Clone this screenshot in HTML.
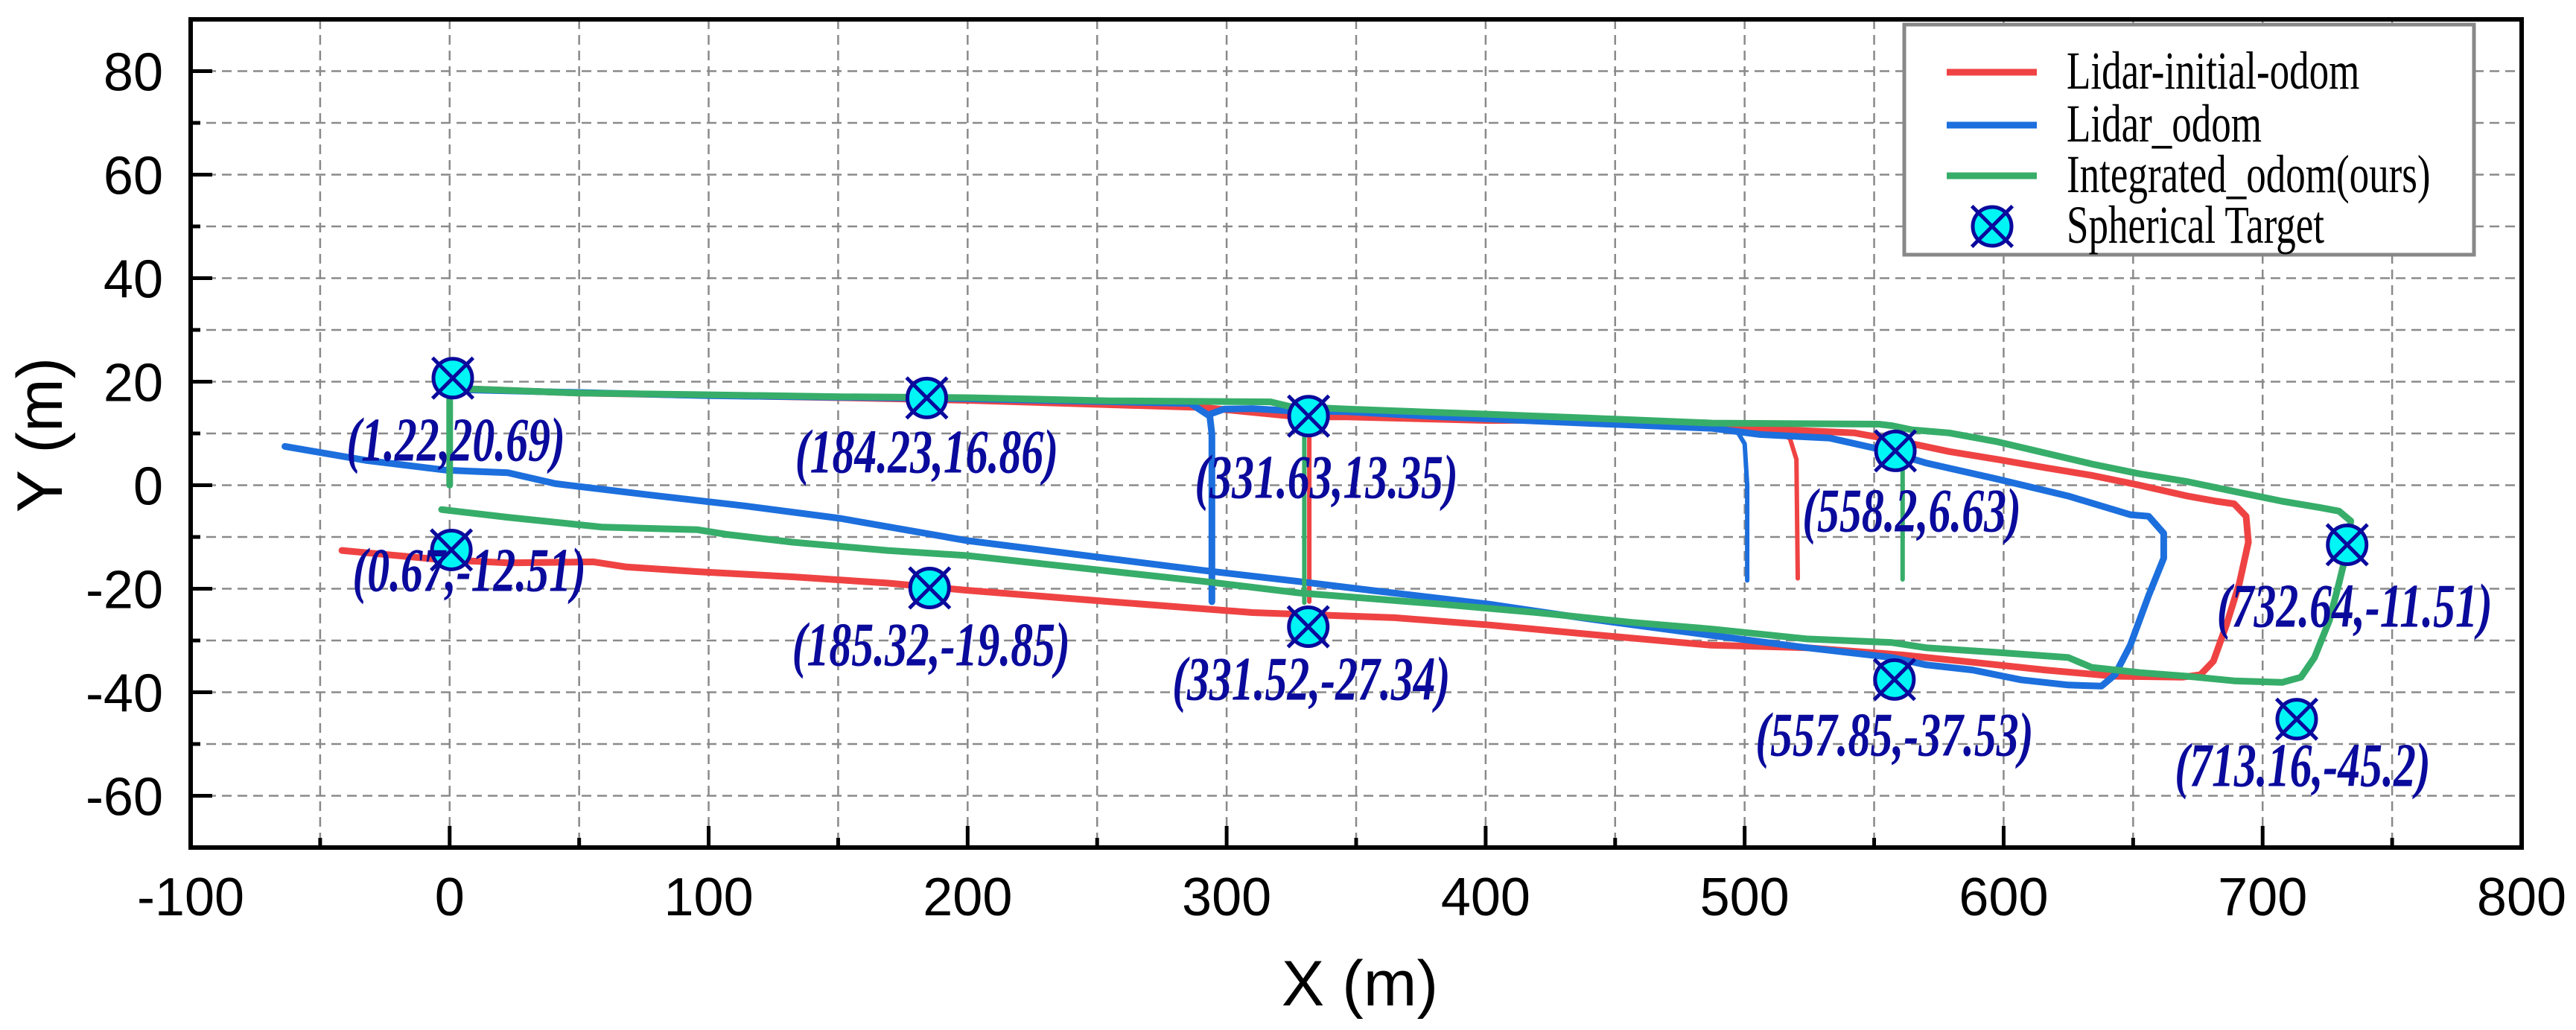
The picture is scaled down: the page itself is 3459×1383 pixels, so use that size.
<!DOCTYPE html>
<html><head><meta charset="utf-8"><style>
html,body{margin:0;padding:0;background:#fff;}
svg{display:block;}
</style></head><body>
<svg id="chart" xmlns="http://www.w3.org/2000/svg" width="3459" height="1383" viewBox="0 0 3459 1383">
<rect x="0" y="0" width="3459" height="1383" fill="#fff"/>
<g id="grid"></g>
<g id="series"></g>
<g id="targets"></g>
<g id="axes"></g>
<g id="legend"></g>
</svg>
<script>
// ---- data ----
const xTicks = [-100,0,100,200,300,400,500,600,700,800];
const yTicks = [-60,-40,-20,0,20,40,60,80];
const xGrid = [-50,0,50,100,150,200,250,300,350,400,450,500,550,600,650,700,750];
const yGrid = [-60,-50,-40,-30,-20,-10,0,10,20,30,40,50,60,70,80];

const redMainX = [-41.6,-5,22.5,55.5,68.3,95.8,132.4,169,199.8,255,310,364.8,401.5,438,487,524,561,588,616,643,669,676,681,686,691,694.5,693.6,689,682,671,652.5,634,616,597.5,579,561,542.5,511,487,438,401.5,346.5,328,291.6,200,151,95.8,50,8,1];
const redMainY = [-12.6,-14.3,-15,-14.8,-15.8,-16.7,-17.7,-18.9,-20.3,-22.5,-24.6,-25.6,-27,-28.7,-30.9,-31.4,-32.8,-34.2,-35.7,-36.9,-37.1,-36.6,-34,-27,-19,-11,-6,-3.6,-3.1,-2.1,0,1.9,3.4,5,6.5,8.4,10.1,10.8,11.6,12.6,12.5,13.2,13.2,15,16.4,16.9,17.4,17.8,18.6,18.7];
const redSpur1X = [511,517.5,520,520.5];
const redSpur1Y = [10.8,9,5,-18];
const redSpur2X = [331.9,331.9];
const redSpur2Y = [13,-22.5];

const blueMainX = [-63.6,-32.4,-1.3,22.5,40.8,77.5,114,150.7,199.8,291.6,328,355.7,401.5,438,487,524,557,570,588,606.7,625,637.8,643,648.9,656,661.8,661.8,656,648.9,625,597.5,570,551.7,533,505.9,487.5,438,383,346.5,322.7,310,299,293.4,294.3,294.3,294.3];
const blueMainY = [7.5,4.8,2.9,2.4,0.3,-1.9,-4,-6.4,-10.7,-16.5,-18.6,-20.3,-23,-25.7,-29,-31.4,-33.3,-34.7,-35.7,-37.6,-38.6,-38.8,-36.6,-30.9,-21.3,-14.1,-9.3,-6,-5.7,-2.1,1.2,4.3,7,9.1,9.8,11,12,13.2,14.2,14.4,14.8,14.7,13.7,9.9,-4.5,-22.5];
const blueTopX = [1,100,200,286,293];
const blueTopY = [18.5,17.3,16.7,15.8,13.5];
const blueSpurX = [487.5,497,500,501,501];
const blueSpurY = [11,10.5,8,0,-18.4];

const greenMainX = [-3.1,22.5,59,95.8,106.8,132.4,169,199.8,291.6,328,383,419.8,456.4,487.5,524,557,570,597.5,625,634,652.5,670.8,689,707.5,714.8,720,725.8,729.5,733,734,729.5,722,707.5,689,670.8,652.5,634,615.9,597.5,579,564.5,557,551.7,487.5,438,401.5,346.5,324.5,317,255,200,151,95.8,50,8,0,0];
const greenMainY = [-4.7,-6.2,-8.1,-8.6,-9.5,-11,-12.6,-13.6,-18.6,-20.8,-23,-24.6,-26.5,-27.8,-29.7,-30.4,-31.4,-32.3,-33.3,-35.2,-36.2,-36.9,-37.8,-38.1,-37.1,-33.3,-26.1,-18.9,-11.7,-6.9,-5,-4.3,-3.1,-1.2,0.7,2.2,4.1,6.25,8.4,10.1,10.7,11.5,11.8,12,13,13.7,14.7,15.2,16.1,16.3,16.9,17.1,17.5,17.8,18.6,18.7,0];
const greenSpur1X = [330,330];
const greenSpur1Y = [13.5,-22.7];
const greenSpur2X = [561,561];
const greenSpur2Y = [10.7,-18.2];

const targetX = [1.22,0.67,184.23,185.32,331.63,331.52,558.2,557.85,732.64,713.16];
const targetY = [20.69,-12.51,16.86,-19.85,13.35,-27.34,6.63,-37.53,-11.51,-45.2];
const targetLabels = ["(1.22,20.69)","(0.67,-12.51)","(184.23,16.86)","(185.32,-19.85)","(331.63,13.35)","(331.52,-27.34)","(558.2,6.63)","(557.85,-37.53)","(732.64,-11.51)","(713.16,-45.2)"];
// label offsets in px (layout only)
const labelDx = [4,24,0,2,24,4,22,0,10,8];
const labelDy = [111,55,100,104,110,98,108,102,110,90];

const legendLabels = ["Lidar-initial-odom","Lidar_odom","Integrated_odom(ours)","Spherical Target"];

// ---- layout ----
const NS = "http://www.w3.org/2000/svg";
const L = 256, R = 3386, T = 26, B = 1138;
const xMin = -100, xMax = 800, yMin = -70, yMax = 90;
function sx(v){ return L + (v - xMin) / (xMax - xMin) * (R - L); }
function sy(v){ return B - (v - yMin) / (yMax - yMin) * (B - T); }
function mk(tag, attrs, parent){
  const e = document.createElementNS(NS, tag);
  for (const k in attrs) e.setAttribute(k, attrs[k]);
  parent.appendChild(e);
  return e;
}
const RED = "#ef4343", BLUE = "#1c6fdd", GREEN = "#37ad6a";

// grid
const grid = document.getElementById('grid');
xGrid.forEach(v => {
  const e = mk('line', {x1:sx(v), x2:sx(v), y1:T, y2:B, stroke:'#8a8a8a', 'stroke-width':2.5, 'stroke-dasharray':'13 8'}, grid);
  
  
});
yGrid.forEach(v => {
  const e = mk('line', {x1:L, x2:R, y1:sy(v), y2:sy(v), stroke:'#8a8a8a', 'stroke-width':2.5, 'stroke-dasharray':'13 8'}, grid);
  
  
});

// series
const series = document.getElementById('series');
function path(xs, ys, color, w, name){
  let d = '';
  for (let i = 0; i < xs.length; i++) d += (i ? 'L' : 'M') + sx(xs[i]).toFixed(1) + ',' + sy(ys[i]).toFixed(1);
  const e = mk('path', {d:d, fill:'none', stroke:color, 'stroke-width':w, 'stroke-linejoin':'round', 'stroke-linecap':'round'}, series);
  
  
}
path(redMainX, redMainY, RED, 9, 'lidar-initial-odom-line');
path(redSpur1X, redSpur1Y, RED, 6, 'lidar-initial-odom-spur');
path(redSpur2X, redSpur2Y, RED, 6, 'lidar-initial-odom-spur');
path(blueTopX, blueTopY, BLUE, 9, 'lidar-odom-line-top');
path(blueMainX, blueMainY, BLUE, 9, 'lidar-odom-line');
path(blueSpurX, blueSpurY, BLUE, 6, 'lidar-odom-spur');
path(greenMainX, greenMainY, GREEN, 9, 'integrated-odom-line');
path(greenSpur1X, greenSpur1Y, GREEN, 6, 'integrated-odom-spur');
path(greenSpur2X, greenSpur2Y, GREEN, 6, 'integrated-odom-spur');

// targets
const tg = document.getElementById('targets');
function marker(cx, cy, r, parent, name){
  const g = mk('g', {}, parent);
  
  
  mk('circle', {cx:cx, cy:cy, r:r, fill:'#00f5f5', stroke:'#0a0a9c', 'stroke-width':5}, g);
  const k = r * 1.05;
  mk('line', {x1:cx-k, y1:cy-k, x2:cx+k, y2:cy+k, stroke:'#0a0a9c', 'stroke-width':5}, g);
  mk('line', {x1:cx+k, y1:cy-k, x2:cx-k, y2:cy+k, stroke:'#0a0a9c', 'stroke-width':5}, g);
}
targetX.forEach((v, i) => {
  const cx = sx(v), cy = sy(targetY[i]);
  marker(cx, cy, 26, tg, 'target-marker');
  const t = mk('text', {x:0, y:0, transform:'translate(' + (cx+labelDx[i]) + ',' + (cy+labelDy[i]) + ') scale(1.03,1.45)', 'text-anchor':'middle', 'font-family':'"Liberation Serif", serif', 'font-size':58, 'font-style':'italic', 'font-weight':'bold', fill:'#0a0a9c'}, tg);
  t.textContent = targetLabels[i];
  
  
});

// axes
const ax = document.getElementById('axes');
const frame = mk('rect', {x:L, y:T, width:R-L, height:B-T, fill:'none', stroke:'#000', 'stroke-width':6}, ax);


for (let v = xMin; v <= xMax; v += 50) {
  const major = v % 100 === 0;
  if (v === xMin || v === xMax) continue;
  const e = mk('line', {x1:sx(v), x2:sx(v), y1:B, y2:B-(major?29:13), stroke:'#000', 'stroke-width':5}, ax);
  
  
}
for (let v = -60; v <= 80; v += 10) {
  const major = v % 20 === 0;
  const e = mk('line', {x1:L, x2:L+(major?29:13), y1:sy(v), y2:sy(v), stroke:'#000', 'stroke-width':5}, ax);
  
  
}
xTicks.forEach(v => {
  const t = mk('text', {x:sx(v), y:1229, 'text-anchor':'middle', 'font-family':'"Liberation Sans", sans-serif', 'font-size':72, fill:'#000'}, ax);
  t.textContent = v;
  
  
});
yTicks.forEach(v => {
  const t = mk('text', {x:219, y:sy(v)+26, 'text-anchor':'end', 'font-family':'"Liberation Sans", sans-serif', 'font-size':72, fill:'#000'}, ax);
  t.textContent = v;
  
  
});
const xt = mk('text', {x:1826, y:1350, 'text-anchor':'middle', 'font-family':'"Liberation Sans", sans-serif', 'font-size':86, fill:'#000'}, ax);
xt.textContent = 'X (m)';


const yt = mk('text', {x:0, y:0, transform:'translate(83,584) rotate(-90)', 'text-anchor':'middle', 'font-family':'"Liberation Sans", sans-serif', 'font-size':86, fill:'#000'}, ax);
yt.textContent = 'Y (m)';



// legend
const lg = document.getElementById('legend');
const box = mk('rect', {x:2557, y:33, width:765, height:309, fill:'#fff', stroke:'#888', 'stroke-width':5}, lg);


const legColors = [RED, BLUE, GREEN, null];
const rowY = [97, 168, 236, 304];
legendLabels.forEach((lab, i) => {
  const g = mk('g', {}, lg);
  
  
  if (legColors[i]) mk('line', {x1:2614, x2:2735, y1:rowY[i], y2:rowY[i], stroke:legColors[i], 'stroke-width':9}, g);
  else marker(2675, rowY[i], 26, g, 'legend-target-marker');
  const t = mk('text', {x:0, y:0, transform:'translate(2775,' + (rowY[i]+22) + ') scale(1,1.35)', 'font-family':'"Liberation Serif", serif', 'font-size':53, fill:'#000'}, g);
  t.textContent = lab;
});
</script>
</body></html>
